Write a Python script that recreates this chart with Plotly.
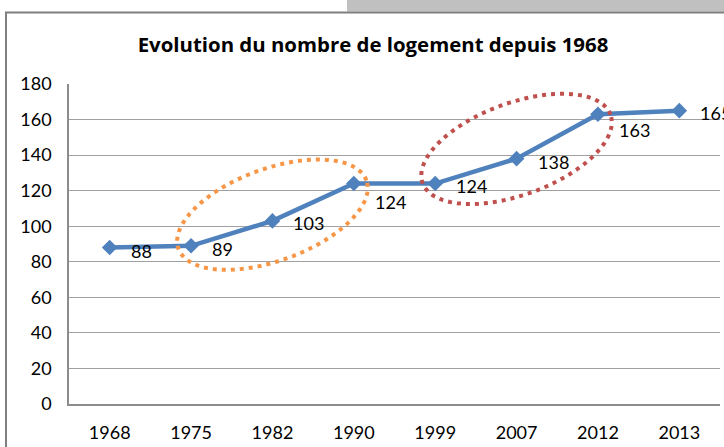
import numpy as np
import plotly.graph_objects as go

# ---- data ----
years = ["1968", "1975", "1982", "1990", "1999", "2007", "2012", "2013"]
logements = [88, 89, 103, 124, 124, 138, 163, 165]
y_tick_values = [0, 20, 40, 60, 80, 100, 120, 140, 160, 180]
title_text = "Evolution du nombre de logement depuis 1968"
highlight_groups = [("1975", "1990"), ("1999", "2012")]

# ---- style ----
W, H = 724, 447
L, R, T, B = 69, 4, 84, 43
Y_MAX = 180
label_down_px = [3, 3, 2, 18, 2, 3, 16, 2]
ellipse_colors = ["#F79646", "#C0504D"]
ellipse_a, ellipse_b, ellipse_tilt = 100, 46, np.radians(20)
FONT = "Lato"
BLUE = "#4F81BD"

plot_w = W - L - R
plot_h = H - T - B
px_per_cat = plot_w / len(years)
px_per_unit = plot_h / Y_MAX

fig = go.Figure()
fig.add_trace(go.Scatter(
    x=years, y=logements, mode="lines+markers",
    line=dict(color=BLUE, width=4.5),
    marker=dict(symbol="diamond", size=12, color=BLUE),
    hoverinfo="skip", cliponaxis=False,
))

annotations = []
for i, (v, dn) in enumerate(zip(logements, label_down_px)):
    annotations.append(dict(
        x=i, y=v, xref="x", yref="y", text=str(v), showarrow=False,
        xanchor="left", yanchor="middle", xshift=19, yshift=-dn,
        font=dict(family=FONT, size=18, color="#000000"),
    ))

shapes = []
# highlight ellipses, centred between first and last highlighted point
for (g0, g1), col in zip(highlight_groups, ellipse_colors):
    i0, i1 = years.index(g0), years.index(g1)
    cx = (i0 + i1) / 2
    cy = (logements[i0] + logements[i1]) / 2
    t = np.linspace(0, 2 * np.pi, 121)
    X = ellipse_a * np.cos(t) * np.cos(ellipse_tilt) - ellipse_b * np.sin(t) * np.sin(ellipse_tilt)
    Y = ellipse_a * np.cos(t) * np.sin(ellipse_tilt) + ellipse_b * np.sin(t) * np.cos(ellipse_tilt)
    xs = cx + X / px_per_cat
    ys = cy + Y / px_per_unit
    path = "M " + " L ".join(f"{a:.4f},{b:.4f}" for a, b in zip(xs, ys)) + " Z"
    shapes.append(dict(type="path", path=path, xref="x", yref="y",
                       line=dict(color=col, width=4, dash="4px,5px"), layer="above"))


def px2paper_x(px):
    return (px - L) / plot_w


def px2paper_y(py):
    return (H - B - py) / plot_h


# grey block at top right (outside chart)
shapes.append(dict(type="rect", xref="paper", yref="paper",
                   x0=px2paper_x(347), x1=px2paper_x(W + 2), y0=px2paper_y(11.5), y1=px2paper_y(-2),
                   fillcolor="#C0C0C0", line=dict(width=0), layer="below"))
# chart border (top and left)
shapes.append(dict(type="line", xref="paper", yref="paper",
                   x0=px2paper_x(5), x1=px2paper_x(W + 2), y0=px2paper_y(12.5), y1=px2paper_y(12.5),
                   line=dict(color="#7F7F7F", width=2)))
shapes.append(dict(type="line", xref="paper", yref="paper",
                   x0=px2paper_x(6), x1=px2paper_x(6), y0=px2paper_y(12.5), y1=px2paper_y(H + 2),
                   line=dict(color="#7F7F7F", width=2)))

fig.update_layout(
    width=W, height=H,
    margin=dict(l=L, r=R, t=T, b=B, pad=0),
    paper_bgcolor="white", plot_bgcolor="white",
    showlegend=False,
    title=dict(text=f"<b>{title_text}</b>", x=373 / W, xanchor="center",
               y=1 - 45 / H, yanchor="middle",
               font=dict(family="Open Sans", size=20.4, color="#000000")),
    xaxis=dict(type="category", categoryorder="array", categoryarray=years,
               range=[-0.5, len(years) - 0.5], showgrid=False, zeroline=False,
               showline=True, linecolor="#8C8C8C", linewidth=1.5,
               ticks="", ticklabelstandoff=12,
               tickfont=dict(family=FONT, size=18, color="#000000")),
    yaxis=dict(range=[0, Y_MAX], tickmode="array", tickvals=y_tick_values,
               showgrid=True, gridcolor="#A0A0A0", gridwidth=1.3, zeroline=False,
               showline=True, linecolor="#8C8C8C", linewidth=1.5,
               ticks="", ticklabelstandoff=12,
               tickfont=dict(family=FONT, size=18, color="#000000")),
    shapes=shapes,
    annotations=annotations,
)

fig.write_html("out.html", config={"displayModeBar": False},
               post_script="document.body.style.margin='0';document.body.style.overflow='hidden';")
